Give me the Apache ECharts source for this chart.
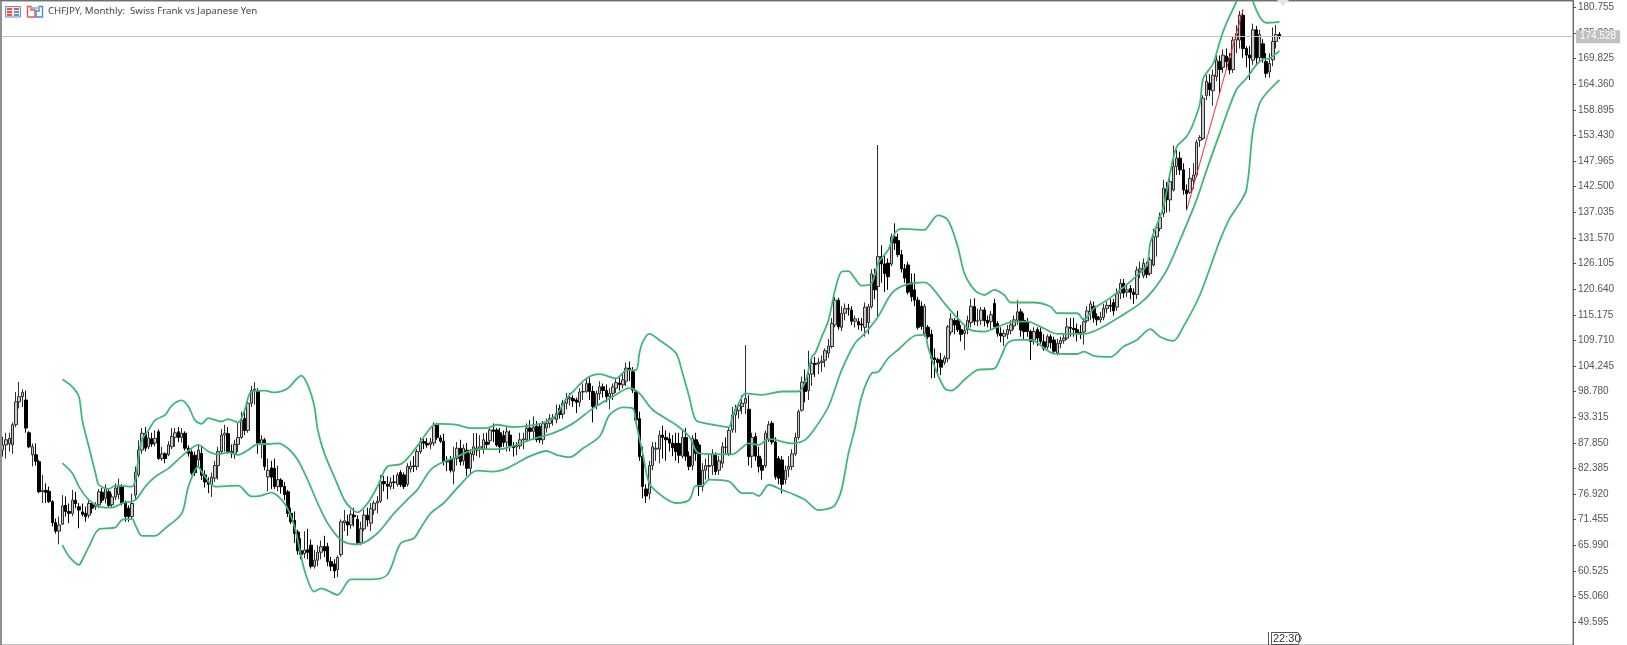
<!DOCTYPE html>
<html>
<head>
<meta charset="utf-8">
<title>CHFJPY Monthly</title>
<style>html,body{margin:0;padding:0;background:#fff}#chart{width:1627px;height:645px;filter:blur(0.4px)}</style>
<script src="https://cdn.jsdelivr.net/npm/echarts@6/dist/echarts.min.js"></script>
</head>
<body>
<div id="chart"></div>
<script>
const opens = [
86.3,87.4,87.6,87.4,91.7,96.6,97.7,97,90,85.3,
85.3,83.8,77.4,77.7,77.5,75.3,70.8,69,70.5,74.5,
73.2,72.8,75.6,74.2,73.1,72.8,72.4,74.9,74.2,74.6,
77.3,76,77.4,74.6,76.3,76.8,78.5,75,73.9,72.1,
76.7,81,86.3,89.9,87,88.7,87.8,90.2,84.5,85.5,
85.3,87,89,90.2,89,89.9,86.7,85.9,85.2,84.2,
85.6,81,79.5,79,80.3,83,86,89.5,89.8,86,
85.6,87.5,89,93,90.5,96.3,99,99,87.7,88.5,
80.6,82.5,82.4,78.5,79.9,78.5,77.4,72.8,71.3,68.8,
64.8,64.2,65,66,61.5,62.8,64.5,65.7,65.7,62.5,
62,60.8,64,70.8,71,70.3,72.4,71.5,66.5,69.5,
72.4,70.7,73.5,75,75.4,79.6,79,78.5,79.5,79,
81.5,81,79,82.3,82.9,82.8,86,88.1,87.7,87.5,
87.8,91.6,88.9,88.2,83.9,84.3,81.8,84.5,86.7,84,
86.3,82.4,85.3,86.7,86.5,86.4,88,88.3,90.6,90.6,
90,89.4,88,89.5,87.2,87,87.2,88.5,88.5,91,
90.3,91.4,91.3,88.5,91,92,93,92.8,95.2,94,
96.3,97.2,97.3,97,96.5,98.7,98.8,100.5,98.8,95.8,
98.3,99.8,99,97.7,98.4,99.5,100.6,100.2,101,103.8,
103,98.7,93,85,78,77,83,86.5,86.5,89.5,
89,88.7,87.8,87.7,87.7,85,89,85,83,88.5,
87.4,78.5,82,82.8,83,85.2,82,83.5,86.9,85.5,
90.6,93.8,94.7,95.6,96.3,95,85,89.2,85,83,
83,88.5,92,88,84.5,84.2,80,82.2,82.8,85.5,
89,94.8,100.8,99,102.5,104.8,104.7,105,105.5,107,
108.4,113,118.3,112.5,115.5,116.5,116.2,113.8,113.7,113.2,
112.5,113.5,116.9,123.6,121.2,127.6,126,126.2,126,131.8,
131,128,125,125.8,122,120.5,118.3,117,111.2,112.5,
111,106,105.6,105.5,105,105.8,111.5,114,114,112,
111.2,112,113.5,116.9,113.8,114,116.2,114,113.7,117.6,
113.3,111.2,110.6,111,111.8,112.8,114,115.8,114,113.7,
111.6,109.8,112,111.5,109.4,108.3,110.5,109.8,107,109,
109.7,110.2,112.5,112.3,112,111.4,111.5,113.9,115.8,117,
114.8,114.1,114.6,116.5,117.2,117.8,116.8,119.8,121.9,120,
120.8,120,119.5,124.5,123.5,125.4,124,125.8,131.8,133.6,
136.8,142,139.7,141.8,146.8,148.6,146.1,141.8,141.3,143.8,
145,152.4,152.8,162,164.6,163,166,169.2,168,170.4,
170,167.5,173.8,173.8,179.1,172,170.6,169.5,176,170,
173,169.2,167,169.6,173.5,175
];
const closes = [
87.4,88.5,88.8,91.7,96.6,97.7,98.6,91,87,87,
83.9,77.4,77.7,77.3,75.3,70.8,69,70.3,74.4,73.2,
72.8,75.6,74.9,73.5,72.6,72.1,74.9,73.9,74.6,77.4,
75.6,78.2,74.5,76.3,78.2,78.5,75,72.1,72.1,74.9,
81.6,86.3,89.9,86.7,88.9,87.6,88.8,84.5,85.5,84.5,
87.4,89.2,90,89,89.9,86.7,85.6,81.4,81.5,86.3,
80.9,79.5,79,80.5,83,86,89.5,89.9,86,85.6,
87.5,89,92.7,90.5,96.3,99,99.3,87.7,88.5,82.8,
82,80.5,78.5,80,78.5,76.8,72.8,71,68.5,64.8,
64,65,64.5,61.5,62.8,64.5,65.7,64.8,62.5,61.5,
60.5,63.4,71,71.2,70.3,72.6,72.1,66.5,69.5,72.4,
71.4,73.8,75,75.4,79.6,79.1,78.6,79.5,79.4,81,
78.9,78.5,82.8,82.9,82.8,86,88.1,87.8,87.4,88,
91.6,89,88.2,83.8,83.8,82,84.5,86.7,83.8,86.7,
82.4,85.6,87,86.3,87,88.5,87.5,90.6,90.3,87.4,
87,87.9,90.2,87.2,86.8,87.3,88.5,88.7,91,90.3,
91.2,88.5,88.5,92,92,93,93.2,94.1,93.9,96.3,
97.3,97.5,96.8,96.5,98.7,98.8,100.5,98.8,95.6,98.4,
99.8,99,97.7,98.4,99.8,100.7,100.3,101.3,103.8,103.3,
99.1,92.7,84.9,78.5,76.5,83,87,86.7,89.5,89,
88.5,87.8,86.8,86,85.2,89,85,82.8,88.8,85.6,
78.5,82,83,83,85.5,81.7,84,87,86.9,90.5,
93.8,95,95.8,96.3,97.3,84.9,89,85,82.8,82,
89.9,91.7,88,80.6,80.3,79,82,82.8,85.5,89,
94.5,100.8,98.8,102.5,104.8,104.6,105,105.3,107.5,108.5,
113.3,118.3,112.6,115.5,116.5,116.4,113.8,114.3,113,113,
116.8,116.9,123.9,120.5,127.6,126,124,123.3,131.8,130.5,
128,125,123,120,119,118.3,112.5,112.7,117,110.5,
105.9,105.6,105,104,106,112.6,114.3,113,112,111,
111.8,114,117,113.8,113.9,116.2,113.9,113.4,115.2,112.6,
111.2,110.7,111.2,112,113,114.1,115.8,111.9,111.6,111.6,
109.5,111.6,110.2,109.5,108,110.5,109.2,107.4,109.1,109.7,
110.2,112.6,112.3,112,111.4,111,113.7,116,117.5,114.5,
114.1,114.6,116.5,117.2,117,116,119.7,121.9,119.8,120.5,
120,119.5,124.7,125,126.2,123.8,126.9,131.8,133.8,136,
142.2,139.7,143.6,146.8,148.6,146.1,141.8,141,144.3,145,
152,153,161.4,165,163.2,166.3,169.5,167.5,170.6,169.2,
167.4,173.8,175.2,179.1,172,170.6,170,176,170,175,
170,166.7,168.8,173.5,175,174.53
];
const lows = [
84.9,84.5,86,85.5,91.2,95.2,95.5,90,86.7,82.8,
83,77.1,75,75,75,70,68.5,66.2,70.3,72.1,
70.7,72.2,73.9,69.6,72.1,71,71.8,72.8,73.5,73.9,
75,74.9,74,74,75.6,75.8,74.5,71,71,71.5,
75.6,80.5,85.5,86,86.5,87,87.1,84.2,84,83.5,
85,86.5,87,88,87.9,86.2,84.9,81,80.8,82.5,
79.9,78.3,77.1,76.3,79.5,80,85.5,86,85.5,84.6,
84.4,85.9,88.7,89.5,90,95.5,96,85.5,84.5,82,
77.5,78,78,77.5,77,75.6,72,70.5,66.5,64,
63,63.2,63,61,61,61.5,63,63.5,61.5,60.5,
59,59.2,63.5,69,68,69.5,70,66,66,69,
70,69,72.5,72.8,75,77.5,75.8,77.9,78,78.5,
78.4,78,78.5,81.5,81.6,82,85.5,86.5,86.8,86.5,
87.2,88.5,87.8,83,81.8,81.5,79,83,83,83,
80.8,81,84,85,84.7,85.5,86.5,87.5,88,87,
85.7,87,86,86,84.9,85.2,86.5,86.5,88,88.5,
88.5,88,87.8,87.5,90,91,91.5,92,93,93,
95,95.8,95.5,94.2,95.5,97,98.5,97,92.2,95,
97,97.5,96.5,95,97,98.5,99,99.5,100,101,
98.5,92,84,76,75,75.8,82,84,83.5,84.5,
84,86,85,84,83.5,84.5,84,82,82,84,
76.5,77.5,80,80,81,81,81,82.5,85.5,85,
90,90,93,94,94,83,82.5,84,81.5,80,
82.5,88,87.5,80,79,77,79,80.5,82,85,
88.5,94.5,96.5,97,100,101.9,102.5,103,104,106,
108,112.5,112,111.7,114,115,113,112.5,112,111.7,
110.5,111,116.5,118.5,114.4,122,120,120.5,125.5,129,
127.5,124.2,122,119.5,118,117,112,112,110.5,110,
101.6,101.7,102.5,102.3,104.5,105,110.8,111,111.5,109.5,
107.7,111,112.5,113,112.8,113,112.7,112.5,112,112.2,
110.5,109.3,108.5,110,111,112,113,110.5,110,110.5,
105.5,108.8,108.5,109,107.5,107.8,108,106.8,106.5,108,
109,109.8,110.5,110.5,109.5,110,108.8,113.5,114,113.5,
112.9,113.5,114,115.5,115.8,115,116,118.5,118.8,119,
118.5,117.5,118.5,123,123,123,123.5,125.5,127.6,133,
136,137,137.2,141.5,145,145,140.8,137.5,141,142,
144.5,151,152.5,161,161.8,159.8,165,162.4,166.8,167.5,
166.5,166.8,171,172,170,168,165.3,168.5,168.3,169,
169,165.8,165.8,168.2,172,174
];
const highs = [
89.2,90,90,92.2,98.7,100.8,99.3,99,90.3,87.7,
87.7,84.2,81,79.2,78.5,75.6,71.7,72.1,76.7,76.4,
74.9,77.8,77.4,75,74.9,74.2,75.6,75.4,75.2,78,
78.2,79,78,77,79.2,80.2,79,75.5,74.5,77,
82.8,88.4,91,91.2,90.2,90,90.5,90.7,87,85.8,
88.2,91,91,91.2,91,90.3,87.3,86.4,86,87.5,
87,82,80.5,81.5,84,87,90.8,91.7,91.2,87.5,
88.5,92.2,94.5,95,97.5,100,100.8,99.5,89.5,88.9,
84.5,84,84.5,83,80.3,79.5,77.8,74,73.2,69.3,
67.5,69,69.5,67.2,65,66,67,68,66.5,63.5,
63,63.8,71.5,73.5,72.5,73.5,74,72.4,71,73.5,
74,75,75.5,76.5,81,80.8,80.7,80.5,81,81.5,
82,81.5,83.5,84,85,86.5,89,88.7,88.9,88.9,
92.2,92.1,89.5,89.8,85,85,87,88,88.5,87.5,
87.8,86.5,89.9,89.9,89.5,89.9,90,91.2,92,91,
91,90.5,91.2,90.5,88,88,90,90,92,92.7,
93.5,92.5,92,92.5,93,94,94,96,96,97,
98.5,98.5,98,97.5,99.5,100.5,101.5,101.8,100,99,
101,100.5,100.3,99.5,100.5,101.5,102,102.5,105,105.2,
104,99,94.5,87,79,84,88,88,90.5,91.5,
90.5,90,89.5,90,90,90.5,91,86,89.5,90,
88,83.5,84.5,85.5,86.5,85.8,85,88,89,91,
95.5,96,96.3,98,108.7,98,90,90,87,84.5,
90.5,92.5,92.5,89,85,85,83,85,86.5,90,
95,102,103.5,107.5,106,106.2,106,106.5,108,110,
114.5,119,118.8,117,117.6,117.5,117,115,114.5,114.5,
117.8,117.5,124.9,125,151.4,130,128,127.2,132.5,134.7,
132.5,129,126,126.5,124,124,119,118,117.5,113,
112,108,106,107,106.5,113,115.5,114.5,116,113,
113,115,118.5,118.7,116.5,116.8,116.8,115,116,118.6,
113.8,112.5,112,113,114,115,118.3,116.5,115.5,114.5,
112,112.5,112.5,112.5,111,111,111,110.5,110,110.5,
111,114.5,114.5,114.5,113.3,113,114.5,117,118.2,118,
115.5,115.8,117.5,118,118.5,118.5,120.8,122.8,122.8,121.5,
121.5,120.8,125.5,126.5,127.2,126.5,127.5,133.5,134.2,137,
144,143.5,145,151.3,150.4,150,147.5,143,146.5,147.5,
152.5,153.5,162,166.3,166.5,167.5,171,170.5,171.8,172,
171,174.5,177,180,180.3,172.5,172.5,177.3,176.8,176,
174,171,171,176.5,177,175.5
];

const upperBars = [18,21,23,24,26,28,29,32,34,39,40,41,42,44,46,49,51,54,56,58,60,62,66,68,71,73,75,79,82,86,90,92,94,95,97,100,103,105,107,110,113,116,120,123,126,130,132,137,141,146,149,154,159,164,167,170,172,176,180,185,188,191,192,193,195,198,203,205,207,209,212,216,219,220,222,224,229,235,240,242,244,245,247,249,251,253,255,257,259,262,264,267,269,271,278,279,282,285,288,290,293,296,299,302,304,311,316,318,324,326,329,333,337,341,345,346,348,350,352,354,357,359,361,362,365,367,369,372,374,375,377,379,381,385];
const upperValues = [101.4,99.8,97.7,92.7,87,81.35,78.9,78,78.7,78.5,79.9,84.9,88.5,90.6,92.7,93.8,95.8,96.9,95.6,92.7,91.9,93.1,92.4,92.9,92.2,94.9,98.8,99,98.6,99.5,102.2,100.2,95.6,90.6,85.6,80.6,75.7,73.9,73,74.9,78.5,82.8,83.3,85.3,88.1,91.7,91.9,91.7,91,91,91.7,91.2,91.5,92.4,93.8,97.3,98.8,101.6,102.5,101.6,103.3,103.4,107,109.4,111.1,109.8,107,102.7,97.7,92.7,92,91.5,91.2,93.45,96.3,98.4,98.1,98.8,98.8,100.9,106.2,107,110.5,114,120.5,124.4,124.5,122.9,121.4,121.9,126.2,129,132.5,133.5,133.3,134,136.4,135.4,129.7,124,120.5,119.4,120.5,119.4,117.8,117.8,116.9,115.5,115.5,114.1,116.5,118.3,120.5,122.9,125.8,130.4,134.3,138.2,145.4,151,153.2,156,160.3,165.6,168.8,173.5,177.4,182,186,186,182,178.8,177.5,177.7];

const middleBars = [18,21,23,26,29,33,36,40,43,46,50,55,59,62,65,68,71,74,77,80,83,86,89,92,95,98,102,106,108,113,118,123,125,129,132,137,143,150,154,160,166,172,178,184,189,192,196,203,207,210,220,225,228,231,238,242,245,249,253,257,260,264,268,272,278,280,284,288,292,296,300,305,309,313,318,326,331,337,343,347,351,355,360,363,367,372,375,378,380,382,385];
const middleValues = [83.5,81.35,78.5,75.65,74.25,74,74.95,75.65,78.5,80.6,82.4,85.6,87.4,86,85.4,85.8,85.3,86.3,87.6,87.6,87.75,86.7,84.2,79.9,74.95,70.7,67.15,66.2,66.3,68.55,72.8,76.4,77.8,82.05,83.5,84.9,86.5,86.5,87.2,88.7,89.9,92,95.2,97.7,99.5,98.4,94.9,91.7,89.2,85.6,85.4,87.75,87.4,88.7,87.75,88.5,91,95.6,103.4,109.1,111.2,114.8,119.7,121.5,122.1,121.2,117.6,114.4,111.9,111.6,112.6,113.7,113.7,112.6,111.1,111.1,112.3,114.8,117.6,120.5,124.7,131.1,139.7,146,153.9,163.2,165.6,168.5,169.7,169.9,171.5];

const lowerBars = [18,20,23,24,26,29,34,36,39,40,42,46,49,54,56,59,60,64,71,75,78,81,85,88,91,94,96,98,101,105,111,116,120,124,126,129,133,138,143,148,152,155,159,164,167,171,175,180,183,187,190,191,193,195,199,203,207,209,211,213,219,223,226,228,231,235,239,242,246,249,251,253,255,257,259,262,264,267,270,275,278,279,281,284,286,290,294,299,301,303,306,310,317,324,326,329,334,338,342,346,349,353,356,361,367,370,372,375,377,379,381,385];
const lowerValues = [66.05,63.6,61.8,62.85,65.7,69.4,69.8,71.4,71.6,70.3,68,68,69.6,72.8,78.5,82.8,81.7,78.5,78.7,76.4,76.6,77.2,74.9,70,60.7,56.1,56.8,56.3,55.4,58.7,58.7,59.7,66.4,67.5,69.6,72.8,75,78.9,81.9,81.7,82.4,83.5,85,86.1,85.3,84.8,86.7,89.2,93.8,95.4,95.2,92,85.6,79.2,76.4,75,75.65,78.7,78.7,80,79.6,77.1,77.1,76.5,78.9,77.8,76.7,75.65,73.5,73.8,74.6,78,85.5,91,97.7,102.7,103,105.9,107.7,110.7,110.9,108.4,104.1,99.5,99,101.3,103.4,103.7,106.2,109.1,109.8,109.8,106.9,106.8,107.3,106.4,106.2,108.4,109.8,112.1,110.5,109.6,112.6,119.4,131,135.8,137.9,141.8,154.6,160.3,162.4,165.3];

const trendBars = [357, 374];
const trendValues = [137.5, 180.2];

const priceTicks = [180.755,175.290,169.825,164.360,158.895,153.430,147.965,142.500,137.035,131.570,126.105,120.640,115.175,109.710,104.245,98.780,93.315,87.850,82.385,76.920,71.455,65.990,60.525,55.060,49.595];
const currentPrice = 174.528;
const titleText = 'CHFJPY, Monthly:  Swiss Frank vs Japanese Yen';
const timeTag = '22:30';
const slotCount = 474;
const categories = Array.from({length: slotCount}, (_, i) => String(i));

const candles = opens.map((o, i) => [o, closes[i], lows[i], highs[i]]);
const pairs = (bars, vals) => bars.map((b, i) => [b, vals[i]]);
const bandStyle = {color: '#3fb877', width: 1.8};
const band = (name, bars, vals) => ({
  name, type: 'line', data: pairs(bars, vals), showSymbol: false, symbol: 'none',
  smooth: 0.3, lineStyle: bandStyle, z: 5, silent: true, clip: true
});

const chart = echarts.init(document.getElementById('chart'), null, {renderer: 'canvas', width: 1627, height: 645});
chart.setOption({
  animation: false,
  backgroundColor: '#ffffff',
  textStyle: {fontFamily: 'Liberation Sans'},
  title: {
    text: titleText, left: 48, top: 6, padding: 0,
    textStyle: {fontFamily: 'Noto Sans', fontSize: 9.7, fontWeight: 'normal', color: '#444'}
  },
  grid: {left: 1, top: 1, width: 1572, height: 644, show: true, borderColor: '#808080', borderWidth: 1, backgroundColor: '#fff'},
  xAxis: {
    type: 'category', data: categories, boundaryGap: true,
    axisLine: {show: false}, axisTick: {show: false}, axisLabel: {show: false}, splitLine: {show: false}
  },
  yAxis: {
    type: 'value', position: 'right', min: 44.7, max: 182.14, scale: true,
    axisLine: {show: true, lineStyle: {color: '#666', width: 1}},
    axisTick: {show: true, length: 3, lineStyle: {color: '#555'}, customValues: priceTicks},
    axisLabel: {
      show: true, margin: 5, color: '#555', fontFamily: 'Liberation Sans', fontSize: 10,
      padding: [4, 0, 0, 0],
      customValues: priceTicks, formatter: v => Number(v).toFixed(3)
    },
    splitLine: {show: false}
  },
  series: [
    {
      type: 'candlestick', data: candles, barWidth: 3, silent: true, z: 3,
      itemStyle: {color: '#c8c8c8', color0: '#000000', borderColor: '#2e2e2e', borderColor0: '#000000', borderWidth: 1},
      markLine: {
        silent: true, symbol: 'none', animation: false,
        lineStyle: {color: '#c4c4c4', width: 1, type: 'solid'},
        label: {
          show: true, position: 'end', distance: 3, formatter: () => currentPrice.toFixed(3),
          backgroundColor: '#c0c0c0', color: '#ffffff', fontFamily: 'Liberation Sans', fontSize: 10,
          padding: [2, 4, 1, 4]
        },
        data: [{yAxis: currentPrice}]
      }
    },
    band('BB upper', upperBars, upperValues),
    band('BB middle', middleBars, middleValues),
    band('BB lower', lowerBars, lowerValues),
    {
      name: 'Trend', type: 'line', data: pairs(trendBars, trendValues), showSymbol: false, symbol: 'none',
      lineStyle: {color: '#f0313a', width: 1}, z: 6, silent: true
    }
  ],
  graphic: [
    {type: 'rect', shape: {x: 0, y: 0, width: 2, height: 645}, style: {fill: '#909090'}, z: 100},
    {type: 'rect', shape: {x: 0, y: 0, width: 1574, height: 1}, style: {fill: '#707070'}, z: 100},
    {type: 'rect', shape: {x: 5.5, y: 6.5, width: 15, height: 10.5}, style: {fill: '#fbe3df', stroke: '#5b9bd5', lineWidth: 1}, z: 100},
    {type: 'rect', shape: {x: 7, y: 8, width: 5, height: 2}, style: {fill: '#e2574c'}, z: 100},
    {type: 'rect', shape: {x: 14, y: 8, width: 5, height: 2}, style: {fill: '#e2574c'}, z: 100},
    {type: 'rect', shape: {x: 7, y: 11, width: 5, height: 2}, style: {fill: '#e2574c'}, z: 100},
    {type: 'rect', shape: {x: 14, y: 11, width: 5, height: 2}, style: {fill: '#5b9bd5'}, z: 100},
    {type: 'rect', shape: {x: 7, y: 14, width: 5, height: 2}, style: {fill: '#e2574c'}, z: 100},
    {type: 'rect', shape: {x: 14, y: 14, width: 5, height: 2}, style: {fill: '#5b9bd5'}, z: 100},
    {type: 'polyline', shape: {points: [[27.5, 17], [27.5, 6.5], [31, 6.5], [31, 10], [35, 10], [35, 17], [27.5, 17]]}, style: {fill: '#fff', stroke: '#e2574c', lineWidth: 1.4}, z: 100},
    {type: 'polyline', shape: {points: [[36, 17], [36, 11], [39, 11], [39, 6.5], [42.5, 6.5], [42.5, 17], [36, 17]]}, style: {fill: '#fff', stroke: '#3f8fd8', lineWidth: 1.4}, z: 100},
    {type: 'rect', shape: {x: 31, y: 7, width: 8, height: 2}, style: {fill: '#b5b5b5'}, z: 100},
    {type: 'polygon', shape: {points: [[1277, 0], [1289, 0], [1283, 6]]}, style: {fill: '#e4e4e4'}, z: 100},
    {type: 'line', shape: {x1: 1268.5, y1: 632, x2: 1268.5, y2: 645}, style: {stroke: '#555', lineWidth: 1}, z: 100},
    {type: 'polyline', shape: {points: [[1271.5, 632.5], [1298, 632.5], [1301.5, 638], [1298, 644.5], [1271.5, 644.5], [1271.5, 632.5]]}, style: {fill: '#fff', stroke: '#555', lineWidth: 1}, z: 100},
    {type: 'text', x: 1273, y: 633, style: {text: timeTag, fill: '#333', font: '11px "Liberation Sans"'}, z: 101}
  ]
});
</script>
</body>
</html>
